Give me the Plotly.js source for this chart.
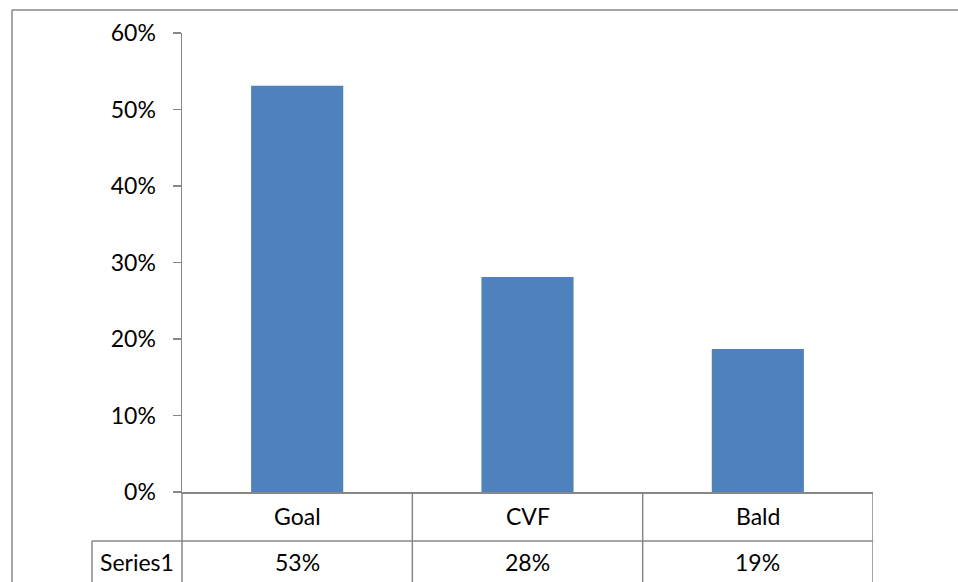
<!DOCTYPE html>
<html>
<head>
<meta charset="utf-8">
<script src="https://cdn.plot.ly/plotly-3.0.1.min.js"></script>
<style>html,body{margin:0;padding:0;background:#fff;}#chart{width:958px;height:582px;}</style>
</head>
<body>
<div id="chart"></div>
<script>
const categories = ["Goal", "CVF", "Bald"];
const seriesName = "Series1";
const values = [0.531, 0.281, 0.187];
const tableLabels = ["53%", "28%", "19%"];

const FONT = "Lato, 'Open Sans', sans-serif";
const GRAY = "#878787";
const W = 958, H = 582;
const M = {l: 182, r: 85, t: 33, b: 90};
const pw = W - M.l - M.r, ph = H - M.t - M.b;
const px = x => (x - M.l) / pw;          // pixel -> paper x
const py = y => (H - M.b - y) / ph;      // pixel -> paper y

const shapes = [];
function line(x0, y0, x1, y1, xref) {
  shapes.push({type: "line", xref: xref || "paper", yref: "paper",
    x0: x0, y0: y0, x1: x1, y1: y1, line: {color: GRAY, width: 1.5}});
}
// outer chart border (left and top)
line(px(12), py(10), px(12), py(H + 5));
line(px(12), py(10), px(W + 5), py(10));
// data table
const rowTop = py(492), rowMid = py(541), rowBot = py(H + 5);
line(px(92), rowMid, 1, rowMid);
line(px(92), rowMid, px(92), rowBot);
line(0, rowTop, 0, rowBot);
for (let i = 0; i < categories.length; i++) {
  line(i + 0.5, rowTop, i + 0.5, rowBot, "x");
}

const annotations = [];
categories.forEach((c, i) => {
  annotations.push({x: c, xref: "x", y: py(516), yref: "paper", text: c, showarrow: false,
    font: {family: FONT, size: 23, color: "#000"}, xanchor: "center", yanchor: "middle"});
  annotations.push({x: c, xref: "x", y: py(562), yref: "paper", text: tableLabels[i], showarrow: false,
    font: {family: FONT, size: 23, color: "#000"}, xanchor: "center", yanchor: "middle"});
});
annotations.push({x: px(137), xref: "paper", y: py(562), yref: "paper", text: seriesName, showarrow: false,
  font: {family: FONT, size: 23, color: "#000"}, xanchor: "center", yanchor: "middle"});

const data = [{
  type: "bar", x: categories, y: values, name: seriesName,
  marker: {color: "#4F81BD"}, hoverinfo: "skip"
}];

const layout = {
  width: W, height: H,
  margin: M,
  paper_bgcolor: "#fff", plot_bgcolor: "#fff",
  bargap: 0.6,
  showlegend: false,
  font: {family: FONT, size: 23, color: "#000"},
  xaxis: {
    type: "category", range: [-0.5, 2.5], showticklabels: false, ticks: "",
    showgrid: false, zeroline: false, showline: true, linecolor: GRAY, linewidth: 1.5,
    mirror: false, fixedrange: true
  },
  yaxis: {
    range: [0, 0.6], dtick: 0.1, tick0: 0, tickformat: ".0%",
    ticks: "outside", ticklen: 8, tickcolor: GRAY, tickwidth: 1.5,
    showline: true, linecolor: GRAY, linewidth: 1.5, showgrid: false, zeroline: false,
    ticklabelstandoff: 12,
    tickfont: {family: FONT, size: 23, color: "#000"}, fixedrange: true
  },
  shapes: shapes,
  annotations: annotations
};

Plotly.newPlot("chart", data, layout, {displayModeBar: false, staticPlot: true});
</script>
</body>
</html>
